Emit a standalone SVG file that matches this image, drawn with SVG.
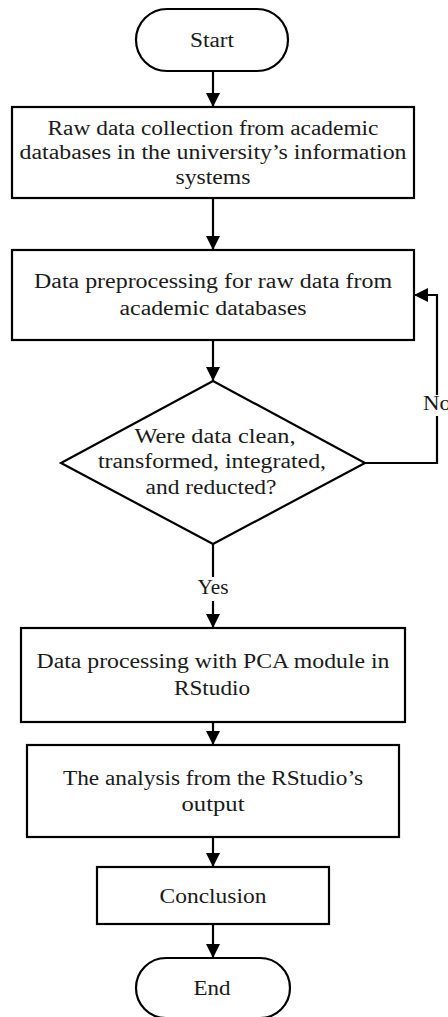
<svg xmlns="http://www.w3.org/2000/svg" width="448" height="1017" viewBox="0 0 448 1017">
<defs>
<marker id="ah" markerWidth="14" markerHeight="14" refX="14" refY="7" orient="auto" markerUnits="userSpaceOnUse">
<path d="M0,0 L14,7 L0,14 Z" fill="#000"/>
</marker>
<style>
.s{fill:#fff;stroke:#000;stroke-width:2.2}
.c{fill:none;stroke:#000;stroke-width:2.2}
text{font-family:"Liberation Serif","Times New Roman",serif;font-size:20.5px;fill:#1a1a1a;text-anchor:middle}
</style>
</defs>
<rect width="448" height="1017" fill="#fff"/>
<g id="connectors">
<line class="c" x1="213" y1="71" x2="213" y2="107" marker-end="url(#ah)"/>
<line class="c" x1="213" y1="198" x2="213" y2="250" marker-end="url(#ah)"/>
<line class="c" x1="213" y1="340" x2="213" y2="381" marker-end="url(#ah)"/>
<polyline class="c" points="365,463 437,463 437,295 414,295" marker-end="url(#ah)"/>
<line class="c" x1="213" y1="544" x2="213" y2="628" marker-end="url(#ah)"/>
<line class="c" x1="213" y1="722" x2="213" y2="745" marker-end="url(#ah)"/>
<line class="c" x1="213" y1="837" x2="213" y2="867" marker-end="url(#ah)"/>
<line class="c" x1="213" y1="924" x2="213" y2="958" marker-end="url(#ah)"/>
<rect x="420" y="395" width="28" height="21" fill="#fff"/>
<text x="423" y="410" style="text-anchor:start" textLength="28" lengthAdjust="spacingAndGlyphs">No</text>
<rect x="195" y="577" width="37" height="24" fill="#fff"/>
<text x="213" y="594" textLength="31" lengthAdjust="spacingAndGlyphs">Yes</text>
</g>
<g id="start">
<rect class="s" x="136" y="9" width="152" height="62" rx="31"/>
<text x="212" y="47" textLength="44" lengthAdjust="spacingAndGlyphs">Start</text>
</g>
<g id="collect">
<rect class="s" x="12" y="107" width="402" height="91"/>
<text x="213" y="135" textLength="331" lengthAdjust="spacingAndGlyphs">Raw data collection from academic</text>
<text x="213" y="159" textLength="387" lengthAdjust="spacingAndGlyphs">databases in the university’s information</text>
<text x="213" y="184" textLength="75" lengthAdjust="spacingAndGlyphs">systems</text>
</g>
<g id="preprocess">
<rect class="s" x="12" y="250" width="402" height="90"/>
<text x="213" y="288" textLength="358" lengthAdjust="spacingAndGlyphs">Data preprocessing for raw data from</text>
<text x="213" y="315" textLength="187" lengthAdjust="spacingAndGlyphs">academic databases</text>
</g>
<g id="decision">
<polygon class="s" points="213,381 365,463 213,544 61,463"/>
<text x="215" y="443" textLength="161" lengthAdjust="spacingAndGlyphs">Were data clean,</text>
<text x="212" y="468" textLength="228" lengthAdjust="spacingAndGlyphs">transformed, integrated,</text>
<text x="211" y="494" textLength="131" lengthAdjust="spacingAndGlyphs">and reducted?</text>
</g>
<g id="pca">
<rect class="s" x="21" y="628" width="384" height="94"/>
<text x="213" y="668" textLength="353" lengthAdjust="spacingAndGlyphs">Data processing with PCA module in</text>
<text x="212" y="695" textLength="76" lengthAdjust="spacingAndGlyphs">RStudio</text>
</g>
<g id="analysis">
<rect class="s" x="27" y="745" width="372" height="92"/>
<text x="213" y="785" textLength="300" lengthAdjust="spacingAndGlyphs">The analysis from the RStudio’s</text>
<text x="213" y="811" textLength="63" lengthAdjust="spacingAndGlyphs">output</text>
</g>
<g id="conclusion">
<rect class="s" x="97" y="867" width="232" height="57"/>
<text x="213" y="903" textLength="107" lengthAdjust="spacingAndGlyphs">Conclusion</text>
</g>
<g id="end">
<rect class="s" x="136" y="958" width="154" height="60" rx="30"/>
<text x="212" y="995" textLength="37" lengthAdjust="spacingAndGlyphs">End</text>
</g>
</svg>
